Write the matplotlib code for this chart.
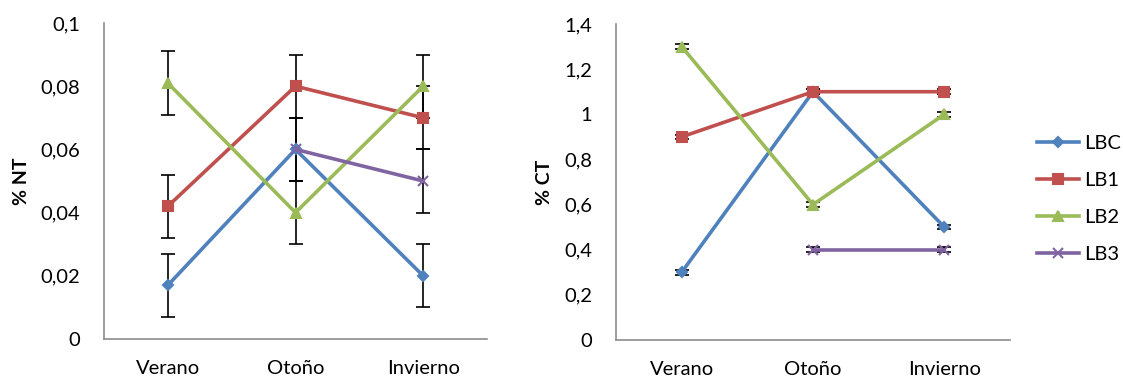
import numpy as np
import matplotlib.pyplot as plt
from matplotlib.ticker import FuncFormatter

plt.rcParams['font.family'] = ['Lato', 'DejaVu Sans']

seasons = ['Verano', 'Otoño', 'Invierno']
series = ['LBC', 'LB1', 'LB2', 'LB3']
colors = ['#4F81BD', '#C0504D', '#9BBB59', '#8064A2']
markers = ['D', 's', '^', 'x']

# % NT
nt_lbc = [0.017, 0.06, 0.02]
nt_lb1 = [0.042, 0.08, 0.07]
nt_lb2 = [0.081, 0.04, 0.08]
nt_lb3 = [np.nan, 0.06, 0.05]
nt_err = 0.01

# % CT
ct_lbc = [0.3, 1.1, 0.5]
ct_lb1 = [0.9, 1.1, 1.1]
ct_lb2 = [1.3, 0.6, 1.0]
ct_lb3 = [np.nan, 0.4, 0.4]
ct_err = 0.01

nt_data = [nt_lbc, nt_lb1, nt_lb2, nt_lb3]
ct_data = [ct_lbc, ct_lb1, ct_lb2, ct_lb3]


def comma(v, pos):
    s = ('%g' % round(v, 4)).replace('.', ',')
    return s


fig = plt.figure(figsize=(11.23, 3.81), dpi=100)
ax1 = fig.add_axes([104 / 1123, 42 / 381, 383 / 1123, 316 / 381])
ax2 = fig.add_axes([616 / 1123, 41 / 381, 394 / 1123, 316 / 381])

x = np.arange(len(seasons))
handles = []
for ax, data, err, ymax, step, lab in [(ax1, nt_data, nt_err, 0.1, 0.02, '% NT'),
                                       (ax2, ct_data, ct_err, 1.4, 0.2, '% CT')]:
    for i, vals in enumerate(data):
        ax.errorbar(x, vals, yerr=err, color='black', elinewidth=1.2,
                    capsize=5, capthick=1.2, fmt='none', zorder=2)
        ms = 7 if markers[i] != 'D' else 5.5
        h, = ax.plot(x, vals, color=colors[i], lw=2.6, marker=markers[i],
                     ms=ms, mew=1.5, zorder=3, label=series[i])
        if ax is ax1:
            handles.append(h)
    ax.set_xlim(-0.5, 2.5)
    ax.set_ylim(0, ymax)
    ax.set_yticks(np.arange(0, ymax + step / 2, step))
    ax.yaxis.set_major_formatter(FuncFormatter(comma))
    ax.set_xticks(x)
    ax.set_xticklabels(seasons)
    ax.tick_params(length=0, labelsize=14.5, pad=17)
    ax.tick_params(axis='x', pad=15)
    for s in ['top', 'right']:
        ax.spines[s].set_visible(False)
    for s in ['left', 'bottom']:
        ax.spines[s].set_color('#8c8c8c')
        ax.spines[s].set_linewidth(1.2)
    ax.set_ylabel(lab, fontsize=14, fontweight='bold', labelpad=8)

fig.legend(handles=handles, loc='center left', bbox_to_anchor=(0.923, 0.478),
           frameon=False, fontsize=14.5, handlelength=2.1, labelspacing=1.0,
           handletextpad=0.25, borderpad=0, borderaxespad=0)

fig.savefig('out.png', dpi=100)
